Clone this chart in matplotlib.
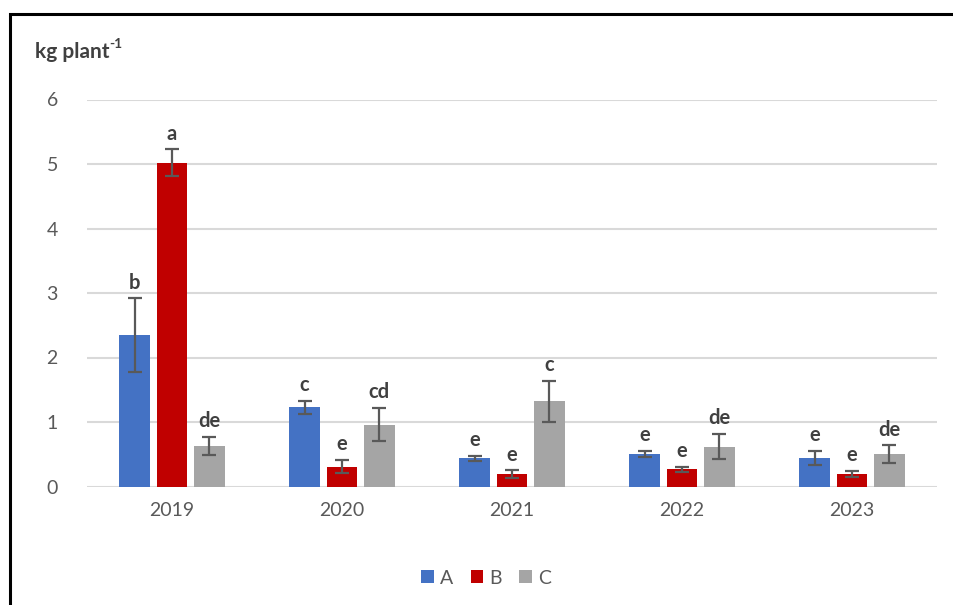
import numpy as np
import matplotlib.pyplot as plt
from matplotlib.patches import Rectangle

anios = ['2019', '2020', '2021', '2022', '2023']
series = ['A', 'B', 'C']
valores_a = [2.35, 1.23, 0.44, 0.50, 0.44]
valores_b = [5.02, 0.31, 0.19, 0.27, 0.19]
valores_c = [0.63, 0.96, 1.32, 0.62, 0.50]
error_a = [0.57, 0.10, 0.04, 0.05, 0.11]
error_b = [0.21, 0.10, 0.06, 0.04, 0.05]
error_c = [0.14, 0.26, 0.32, 0.20, 0.14]
letras_a = ['b', 'c', 'e', 'e', 'e']
letras_b = ['a', 'e', 'e', 'e', 'e']
letras_c = ['de', 'cd', 'c', 'de', 'de']

colores = ['#4472C4', '#C00000', '#A5A5A5']
plt.rcParams['font.family'] = ['Lato', 'DejaVu Sans']

fig = plt.figure(figsize=(9.54, 6.05), dpi=100)
ax = fig.add_axes([87/954, 118.5/605, 850/954, 387/605])

x = np.arange(len(anios))
ancho = 0.18
desp = 0.22
datos = [(valores_a, error_a, letras_a), (valores_b, error_b, letras_b), (valores_c, error_c, letras_c)]
for k, (vals, errs, letras) in enumerate(datos):
    pos = x + (k - 1) * desp
    ax.bar(pos, vals, ancho, color=colores[k], label=series[k], zorder=2)
    ax.errorbar(pos, vals, yerr=errs, fmt='none', ecolor='#595959', elinewidth=1.6,
                capsize=5, capthick=1.6, zorder=3)
    for p, v, e, l in zip(pos, vals, errs, letras):
        ax.annotate(l, (p, v + e), xytext=(0, 4), textcoords='offset points',
                    ha='center', va='bottom', fontsize=14.5, fontweight='bold', color='#404040')

ax.set_xlim(-0.5, len(anios) - 0.5)
ax.set_ylim(0, 6)
ax.set_yticks(range(0, 7))
ax.set_xticks(x)
ax.set_xticklabels(anios)
ax.tick_params(axis='both', length=0, labelsize=14, labelcolor='#595959')
ax.tick_params(axis='x', pad=11)
ax.tick_params(axis='y', pad=21)
ax.grid(axis='y', color='#D9D9D9', linewidth=1.5, zorder=0)
ax.set_axisbelow(True)
for s in ax.spines.values():
    s.set_visible(False)

t = fig.text(35/954, 1 - 52/605, 'kg plant', fontsize=15, fontweight='bold',
             color='#404040', va='center', ha='left')
fig.text(0, 0, '')
ax.annotate('-1', xy=(1.0, 0.62), xycoords=t, fontsize=10, fontweight='bold',
            color='#404040', va='bottom', ha='left', annotation_clip=False)

ax.legend(loc='center', bbox_to_anchor=(486/954, 1 - 578/605), bbox_transform=fig.transFigure,
          ncol=3, frameon=False, fontsize=14, labelcolor='#595959', handlelength=0.65,
          handleheight=0.65, handletextpad=0.3, columnspacing=0.9)

# marco negro
fig.patches.append(Rectangle((10/954, -0.1), 1.1, 1 - 14/605 + 0.1, transform=fig.transFigure,
                             fill=False, edgecolor='black', linewidth=2.2))

fig.savefig('out.png', dpi=100)
